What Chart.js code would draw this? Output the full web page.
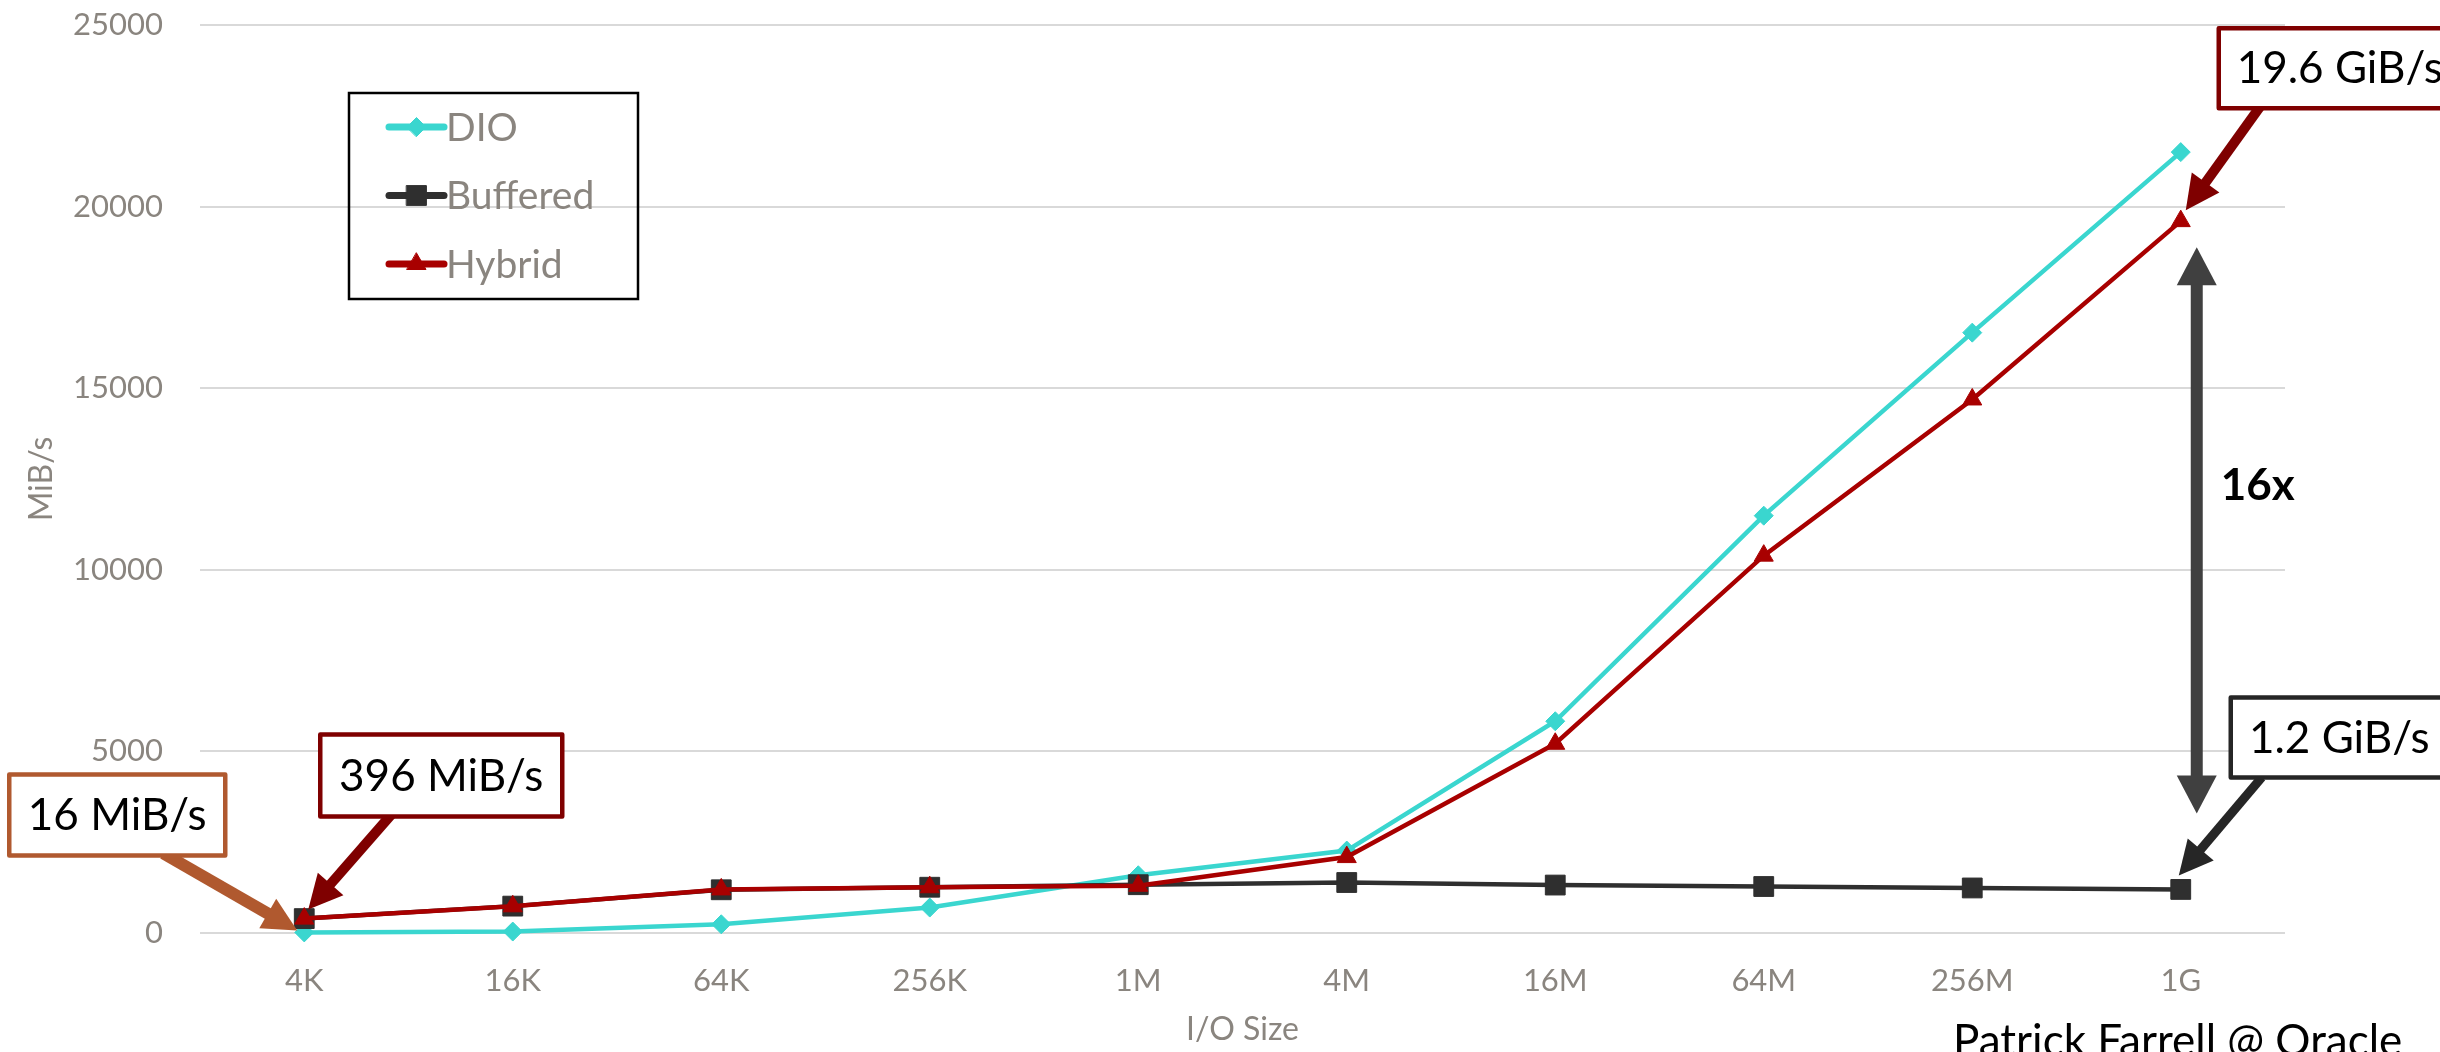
<!DOCTYPE html>
<html>
<head>
<meta charset="utf-8">
<title>I/O throughput by transfer size</title>
<script src="https://cdn.jsdelivr.net/npm/chart.js@4.4.1/dist/chart.umd.min.js"></script>
<style>
  html, body { margin: 0; padding: 0; background: #ffffff; overflow: hidden; }
  canvas { display: block; }
</style>
</head>
<body>
<canvas id="chart" width="2440" height="1052"></canvas>
<script>
// ---- data -------------------------------------------------------------
const ioSizes       = ['4K', '16K', '64K', '256K', '1M', '4M', '16M', '64M', '256M', '1G'];
const seriesNames   = ['DIO', 'Buffered', 'Hybrid'];
const dioMiBs       = [16, 40, 240, 700, 1590, 2270, 5830, 11490, 16530, 21500];
const bufferedMiBs  = [396, 740, 1190, 1260, 1330, 1390, 1320, 1280, 1240, 1200];
const hybridMiBs    = [396, 735, 1200, 1260, 1300, 2090, 5210, 10390, 14690, 19600];
const yTickValues   = [0, 5000, 10000, 15000, 20000, 25000];
const xAxisTitle    = 'I/O Size';
const yAxisTitle    = 'MiB/s';
const creditText    = 'Patrick Farrell @ Oracle';

// ---- styling ----------------------------------------------------------
const FONT = "Lato, 'Open Sans', 'DejaVu Sans', sans-serif";
const axisGray = '#8a857f';
const gridGray = '#d9d9d9';
const seriesStyle = [
  { color: '#3AD6CF', pointStyle: 'rectRot',  radius: 9.5 },
  { color: '#2F2F2F', pointStyle: 'rect',     radius: 14 },
  { color: '#A80000', pointStyle: 'triangle', radius: 11 }
];

const mibLabel = v => `${v} MiB/s`;
const gibLabel = v => `${(v / 1000).toFixed(1)} GiB/s`;

// Callout boxes: anchored to a data point, offsets in pixels from that point.
const callouts = [
  { series: 0, index: 0, format: mibLabel, color: '#B0592F', shaft: 12,
    box: [-295, -158, 216, 81], from: [-141, -79], to: [-7, -2] },
  { series: 2, index: 0, format: mibLabel, color: '#7F0000', shaft: 10,
    box: [16, -184, 242, 82], from: [87, -104], to: [4, -9] },
  { series: 2, index: 9, format: gibLabel, color: '#7F0000', shaft: 10,
    box: [38, -193, 242, 80], from: [79, -114], to: [5, -11] },
  { series: 1, index: 9, format: gibLabel, color: '#262626', shaft: 9,
    box: [50, -192, 217, 80], from: [81, -112], to: [-2, -14] }
];

function drawHead(ctx, x2, y2, a, color, headLen, headHalf) {
  const bx = x2 - Math.cos(a) * headLen;
  const by = y2 - Math.sin(a) * headLen;
  ctx.fillStyle = color;
  ctx.beginPath();
  ctx.moveTo(x2, y2);
  ctx.lineTo(bx + Math.sin(a) * headHalf, by - Math.cos(a) * headHalf);
  ctx.lineTo(bx - Math.sin(a) * headHalf, by + Math.cos(a) * headHalf);
  ctx.closePath();
  ctx.fill();
}

function drawArrowHeaded(ctx, x1, y1, x2, y2, color, shaft, headLen, headHalf) {
  const a = Math.atan2(y2 - y1, x2 - x1);
  const bx = x2 - Math.cos(a) * (headLen - 2);
  const by = y2 - Math.sin(a) * (headLen - 2);
  ctx.save();
  ctx.strokeStyle = color;
  ctx.lineWidth = shaft;
  ctx.lineCap = 'butt';
  ctx.beginPath();
  ctx.moveTo(x1, y1);
  ctx.lineTo(bx, by);
  ctx.stroke();
  drawHead(ctx, x2, y2, a, color, headLen, headHalf);
  ctx.restore();
}

function drawDoubleArrow(ctx, x, y1, y2, color, shaft, headLen, headHalf) {
  ctx.save();
  ctx.strokeStyle = color;
  ctx.lineWidth = shaft;
  ctx.lineCap = 'butt';
  ctx.beginPath();
  ctx.moveTo(x, y1 + headLen - 2);
  ctx.lineTo(x, y2 - headLen + 2);
  ctx.stroke();
  drawHead(ctx, x, y1, -Math.PI / 2, color, headLen, headHalf);
  drawHead(ctx, x, y2, Math.PI / 2, color, headLen, headHalf);
  ctx.restore();
}

// Legend drawn as an outlined box inside the plot area.
const boxedLegend = {
  id: 'boxedLegend',
  afterDraw(chart) {
    const { ctx, chartArea } = chart;
    const left = chartArea.left + 149;
    const top = chartArea.top + 68;
    const w = 289, h = 206;
    ctx.save();
    ctx.strokeStyle = '#000000';
    ctx.lineWidth = 2.5;
    ctx.strokeRect(left, top, w, h);
    chart.data.datasets.forEach((ds, i) => {
      const cy = top + 34 + i * 68.5;
      const x0 = left + 40, x1 = left + 95;
      ctx.strokeStyle = ds.borderColor;
      ctx.lineWidth = 7;
      ctx.lineCap = 'round';
      ctx.beginPath();
      ctx.moveTo(x0, cy);
      ctx.lineTo(x1, cy);
      ctx.stroke();
      ctx.fillStyle = ds.backgroundColor;
      ctx.strokeStyle = ds.borderColor;
      ctx.lineWidth = 1;
      Chart.helpers.drawPoint(ctx, {
        pointStyle: ds.pointStyle, radius: ds.pointRadius, borderWidth: 1, rotation: 0
      }, (x0 + x1) / 2, cy);
      ctx.fillStyle = axisGray;
      ctx.font = `39px ${FONT}`;
      ctx.textAlign = 'left';
      ctx.textBaseline = 'middle';
      ctx.fillText(ds.label, left + 97, cy + 1);
    });
    ctx.restore();
  }
};

// Value callouts, the speed-up arrow and the credit line.
const annotations = {
  id: 'annotations',
  afterDatasetsDraw(chart) {
    const { ctx } = chart;
    const xs = chart.scales.x, ys = chart.scales.y;
    const valueOf = (s, i) => chart.data.datasets[s].data[i];
    const pointAt = (s, i) => ({ x: xs.getPixelForValue(i), y: ys.getPixelForValue(valueOf(s, i)) });

    // Double-headed arrow between Hybrid and Buffered at the last size
    const last = ioSizes.length - 1;
    const hy = pointAt(2, last), bu = pointAt(1, last);
    drawDoubleArrow(ctx, hy.x + 16, hy.y + 26, bu.y - 76, '#404040', 12, 38, 20);
    const ratio = Math.round(valueOf(2, last) / valueOf(1, last));
    ctx.save();
    ctx.fillStyle = '#000000';
    ctx.font = `bold 44px ${FONT}`;
    ctx.textAlign = 'left';
    ctx.textBaseline = 'middle';
    ctx.fillText(`${ratio}x`, hy.x + 40, (hy.y + bu.y) / 2 - 69);
    ctx.restore();

    callouts.forEach(c => {
      const p = pointAt(c.series, c.index);
      drawArrowHeaded(ctx, p.x + c.from[0], p.y + c.from[1], p.x + c.to[0], p.y + c.to[1],
        c.color, c.shaft, 34, 17);
      const [bx, by, bw, bh] = c.box;
      ctx.save();
      ctx.fillStyle = '#ffffff';
      ctx.fillRect(p.x + bx, p.y + by, bw, bh);
      ctx.strokeStyle = c.color;
      ctx.lineWidth = 4.5;
      ctx.lineJoin = 'round';
      ctx.strokeRect(p.x + bx, p.y + by, bw, bh);
      ctx.fillStyle = '#000000';
      ctx.font = `44px ${FONT}`;
      ctx.textAlign = 'center';
      ctx.textBaseline = 'middle';
      ctx.fillText(c.format(valueOf(c.series, c.index)), p.x + bx + bw / 2, p.y + by + bh / 2 + 1);
      ctx.restore();
    });
  },
  afterDraw(chart) {
    const { ctx } = chart;
    ctx.save();
    ctx.fillStyle = '#000000';
    ctx.font = `44px ${FONT}`;
    ctx.textAlign = 'left';
    ctx.textBaseline = 'alphabetic';
    ctx.fillText(creditText, 1953, 1056);
    ctx.restore();
  }
};

function build() {
  Chart.defaults.font.family = FONT;
  const series = [dioMiBs, bufferedMiBs, hybridMiBs];
  const drawOrder = [2, 1, 0];
  new Chart(document.getElementById('chart'), {
    type: 'line',
    data: {
      labels: ioSizes,
      datasets: series.map((values, i) => ({
        label: seriesNames[i],
        data: values,
        borderColor: seriesStyle[i].color,
        backgroundColor: seriesStyle[i].color,
        pointBackgroundColor: seriesStyle[i].color,
        pointBorderColor: seriesStyle[i].color,
        pointStyle: seriesStyle[i].pointStyle,
        pointRadius: seriesStyle[i].radius,
        pointBorderWidth: 1,
        borderWidth: 4.5,
        tension: 0,
        fill: false,
        clip: false,
        order: drawOrder[i]
      }))
    },
    options: {
      responsive: false,
      maintainAspectRatio: false,
      animation: false,
      devicePixelRatio: 1,
      events: [],
      layout: { padding: { top: 25, right: 155, bottom: 0, left: 0 } },
      plugins: {
        legend: { display: false },
        tooltip: { enabled: false }
      },
      scales: {
        x: {
          type: 'category',
          offset: true,
          grid: { display: false, drawTicks: false },
          border: { display: false },
          ticks: { color: axisGray, font: { size: 31 }, padding: 29, maxRotation: 0, autoSkip: false },
          title: { display: true, text: xAxisTitle, color: axisGray, font: { size: 32 },
                   padding: { top: 0, bottom: 3 } },
          afterFit: s => { s.height = 119; s.paddingLeft = 0; s.paddingRight = 0; }
        },
        y: {
          min: 0,
          max: 25000,
          grid: { color: gridGray, lineWidth: 2, drawTicks: false },
          border: { display: false },
          ticks: { color: axisGray, font: { size: 31 }, padding: 37, callback: v => String(v) },
          afterBuildTicks: s => { s.ticks = yTickValues.map(v => ({ value: v })); },
          title: { display: true, text: yAxisTitle, color: axisGray, font: { size: 32 },
                   padding: { top: 22, bottom: 0 } },
          afterFit: s => { s.width = 200; s.paddingTop = 0; s.paddingBottom = 0; }
        }
      }
    },
    plugins: [annotations, boxedLegend]
  });
}

Promise.all([
  document.fonts.load(`31px ${FONT}`),
  document.fonts.load(`bold 44px ${FONT}`)
]).catch(() => {}).then(build);
</script>
</body>
</html>
